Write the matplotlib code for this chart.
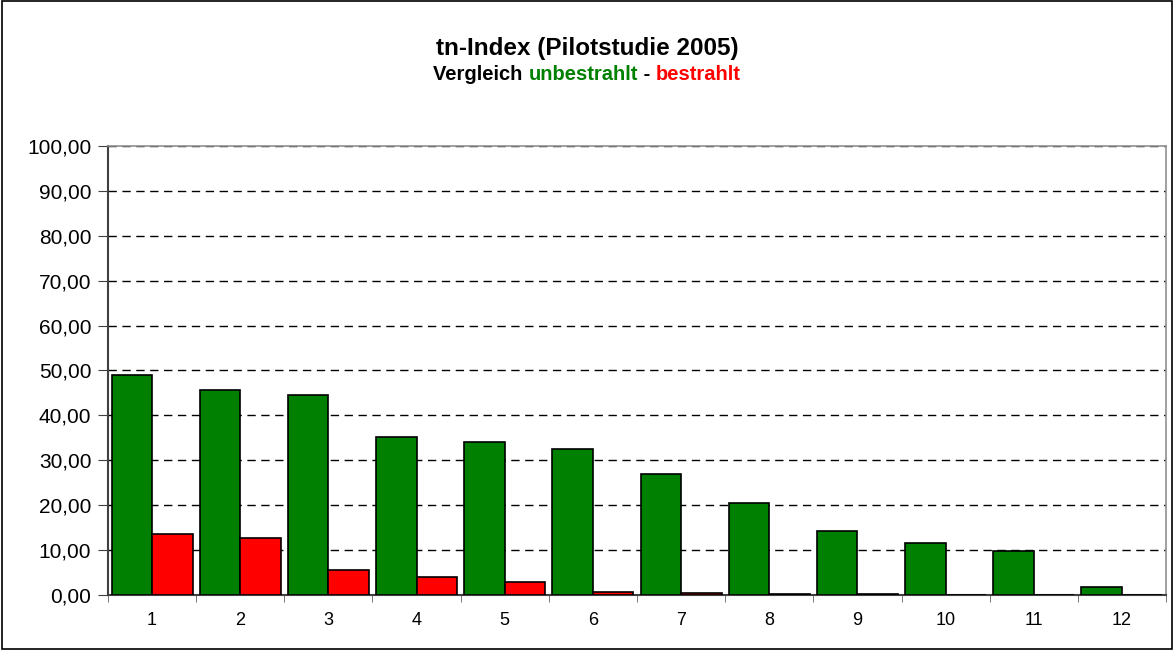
import matplotlib
matplotlib.use('AGG')

import matplotlib.pyplot as plt
import numpy as np
from matplotlib.patches import Rectangle
from matplotlib.ticker import FixedLocator, FuncFormatter

plt.rcParams['font.family'] = ['Liberation Sans', 'DejaVu Sans']

categories = ['1', '2', '3', '4', '5', '6', '7', '8', '9', '10', '11', '12']
unbestrahlt = [49.0, 45.7, 44.5, 35.2, 34.1, 32.5, 27.0, 20.5, 14.3, 11.6, 9.8, 1.8]
bestrahlt = [13.5, 12.6, 5.5, 4.1, 3.0, 0.7, 0.5, 0.2, 0.2, 0.0, 0.0, 0.0]
yticks = np.arange(0, 101, 10)

fig = plt.figure(figsize=(11.74, 6.5), dpi=100)
fig.patches.append(Rectangle((0.002, 0.002), 0.996, 0.996, transform=fig.transFigure,
                             fill=False, edgecolor='black', linewidth=1.2))

ax = fig.add_axes([108 / 1174, 55 / 650, (1166 - 108) / 1174, (595 - 146) / 650])

x = np.arange(len(categories))
w = 0.46
ax.bar(x - w / 2, unbestrahlt, w, color='#008000', edgecolor='black', linewidth=1.2, zorder=3)
ax.bar(x + w / 2, bestrahlt, w, color='#ff0000', edgecolor='black', linewidth=1.2, zorder=3)

ax.set_xlim(-0.5, len(categories) - 0.5)
ax.set_ylim(0, 100)
ax.set_yticks(yticks)
ax.yaxis.set_major_formatter(FuncFormatter(lambda v, p: '{:.2f}'.format(v).replace('.', ',')))
ax.set_xticks(x)
ax.set_xticklabels(categories)
ax.xaxis.set_minor_locator(FixedLocator(np.arange(-0.5, len(categories), 1)))
ax.tick_params(axis='x', which='major', length=0, labelsize=13, pad=12)
ax.tick_params(axis='x', which='minor', length=5, color='#606060', direction='out')
ax.tick_params(axis='y', length=7, labelsize=15, color='#404040', direction='out', pad=5)

ax.grid(axis='y', color='black', linestyle=(0, (6, 4)), linewidth=1, zorder=0)
for s in ['left', 'bottom']:
    ax.spines[s].set_color('#404040')
    ax.spines[s].set_linewidth(1.5)
for s in ['top', 'right']:
    ax.spines[s].set_color('#909090')
    ax.spines[s].set_linewidth(1.2)

fig.text(0.5, 1 - 48 / 650, 'tn-Index (Pilotstudie 2005)', ha='center', va='center',
         fontsize=17.5, fontweight='bold')

# subtitle in three colours, centred as one line
parts = [('Vergleich ', 'black'), ('unbestrahlt', '#008000'), (' - ', 'black'), ('bestrahlt', '#ff0000')]
fig.canvas.draw()
r = fig.canvas.get_renderer()
texts = []
for part, col in parts:
    texts.append(fig.text(0, 1 - 75 / 650, part, ha='left', va='center',
                          fontsize=14.5, fontweight='bold', color=col))
widths = [t.get_window_extent(r).width for t in texts]
xpos = (fig.bbox.width - sum(widths)) / 2
for t, wd in zip(texts, widths):
    t.set_x(xpos / fig.bbox.width)
    xpos += wd

fig.savefig('out.png', dpi=100)
